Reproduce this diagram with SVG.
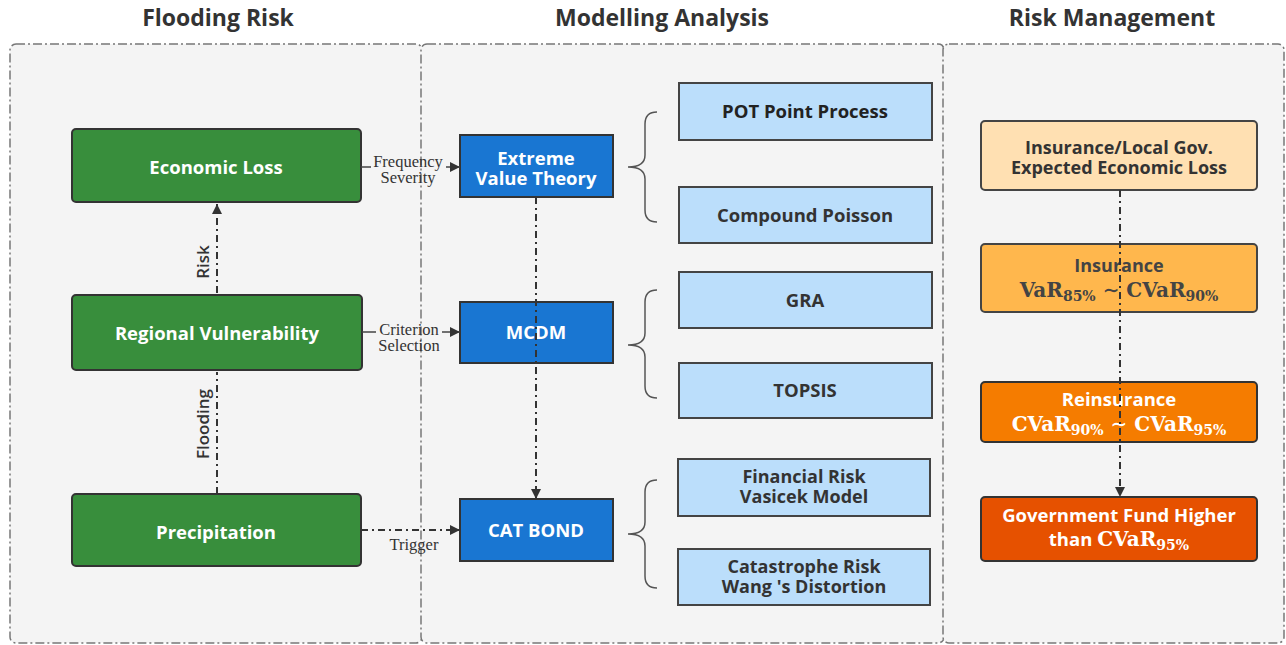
<svg xmlns="http://www.w3.org/2000/svg" width="1286" height="645" viewBox="0 0 1286 645">
<defs>
<marker id="arr" viewBox="0 0 10 10" refX="10" refY="5" markerWidth="10" markerHeight="10" markerUnits="userSpaceOnUse" orient="auto">
<path d="M0,0 L10,5 L0,10 Z" fill="#333"/>
</marker>
<style>
.title{font-family:"Open Sans","Liberation Sans",sans-serif;font-weight:700;font-size:23px;fill:#333;text-anchor:middle}
.panel{fill:#f4f4f4;stroke:#777;stroke-width:1.5;stroke-dasharray:9,3,2,3}
.green{fill:#388e3c;stroke:#333;stroke-width:2}
.blue{fill:#1976d2;stroke:#333;stroke-width:2}
.lblue{fill:#bbdefb;stroke:#444;stroke-width:2}
.wt{font-family:"Open Sans","Liberation Sans",sans-serif;font-weight:700;font-size:18.5px;fill:#fff;text-anchor:middle}
.dt{font-family:"Open Sans","Liberation Sans",sans-serif;font-weight:700;font-size:18.5px;fill:#333;text-anchor:middle}
.dt2{font-family:"Open Sans","Liberation Sans",sans-serif;font-weight:700;font-size:18px;fill:#333;text-anchor:middle}
.math{font-family:"DejaVu Serif","Liberation Serif",serif;font-weight:700;font-size:20px;text-anchor:middle}
.sub{font-size:14px}
.sl{font-family:"Liberation Serif","Times New Roman",serif;font-size:16.5px;fill:#333;text-anchor:middle}
.rl{font-family:"Open Sans","Liberation Sans",sans-serif;font-weight:600;font-size:17px;fill:#333;text-anchor:middle}
.conn{fill:none;stroke:#333;stroke-width:2;stroke-dasharray:7,4,2,4}
.solid{fill:none;stroke:#444;stroke-width:1.5}
.brace{fill:none;stroke:#555;stroke-width:1.5}
</style>
</defs>
<rect x="0" y="0" width="1286" height="645" fill="#fff"/>
<g id="panels">
<rect class="panel" x="10" y="44" width="412" height="599" rx="6"/>
<rect class="panel" x="421" y="44" width="523" height="599" rx="6"/>
<rect class="panel" x="943" y="44" width="341" height="599" rx="6"/>
<text class="title" x="218" y="26">Flooding Risk</text>
<text class="title" x="662" y="26">Modelling Analysis</text>
<text class="title" x="1112" y="26">Risk Management</text>
</g>
<g id="economic-loss">
<rect class="green" x="72" y="129" width="289" height="73" rx="4"/>
<text class="wt" x="216" y="174">Economic Loss</text>
</g>
<g id="regional-vulnerability">
<rect class="green" x="72" y="295" width="290" height="75" rx="4"/>
<text class="wt" x="217" y="340">Regional Vulnerability</text>
</g>
<g id="precipitation">
<rect class="green" x="72" y="494" width="289" height="72" rx="4"/>
<text class="wt" x="216" y="539">Precipitation</text>
</g>
<g id="evt">
<rect class="blue" x="460" y="135" width="153" height="62"/>
<text class="wt" x="536" y="165">Extreme</text>
<text class="wt" x="536" y="185">Value Theory</text>
</g>
<g id="mcdm">
<rect class="blue" x="460" y="302" width="153" height="61"/>
<text class="wt" x="536" y="339">MCDM</text>
</g>
<g id="catbond">
<rect class="blue" x="460" y="499" width="153" height="62"/>
<text class="wt" x="536" y="537">CAT BOND</text>
</g>
<g id="pot">
<rect class="lblue" x="679" y="83" width="253" height="57"/>
<text class="dt" x="805" y="118" style="fill:#222">POT Point Process</text>
</g>
<g id="compound-poisson">
<rect class="lblue" x="679" y="187" width="253" height="56"/>
<text class="dt" x="805" y="222">Compound Poisson</text>
</g>
<g id="gra">
<rect class="lblue" x="679" y="272" width="253" height="56"/>
<text class="dt" x="805" y="307">GRA</text>
</g>
<g id="topsis">
<rect class="lblue" x="679" y="363" width="253" height="55"/>
<text class="dt" x="805" y="397">TOPSIS</text>
</g>
<g id="financial-risk">
<rect class="lblue" x="678" y="459" width="252" height="57"/>
<text class="dt2" x="804" y="483">Financial Risk</text>
<text class="dt2" x="804" y="503">Vasicek Model</text>
</g>
<g id="catastrophe-risk">
<rect class="lblue" x="678" y="549" width="252" height="56"/>
<text class="dt2" x="804" y="573">Catastrophe Risk</text>
<text class="dt2" x="804" y="593">Wang 's Distortion</text>
</g>
<g id="braces">
<path class="brace" d="M657,112 Q645,112 645,124 L645,155 Q645,167 628,167 Q645,167 645,179 L645,210 Q645,222 657,222"/>
<path class="brace" d="M657,290 Q645,290 645,302 L645,333 Q645,345 628,345 Q645,345 645,357 L645,386 Q645,398 657,398"/>
<path class="brace" d="M657,480 Q645,480 645,492 L645,522 Q645,534 628,534 Q645,534 645,546 L645,576 Q645,588 657,588"/>
</g>
<g id="insurance-local-gov">
<rect x="981" y="121" width="276" height="69" rx="4" fill="#ffe0b2" stroke="#444" stroke-width="2"/>
<text class="dt2" x="1119" y="154">Insurance/Local Gov.</text>
<text class="dt2" x="1119" y="174">Expected Economic Loss</text>
</g>
<g id="insurance">
<rect x="981" y="244" width="276" height="68" rx="4" fill="#ffb74d" stroke="#444" stroke-width="2"/>
<text class="dt2" x="1119" y="272" style="fill:#444">Insurance</text>
<text class="math" x="1119" y="297" style="fill:#444">VaR<tspan class="sub" dy="4">85%</tspan><tspan dy="-4"> ∼ CVaR</tspan><tspan class="sub" dy="4">90%</tspan></text>
</g>
<g id="reinsurance">
<rect x="981" y="382" width="276" height="60" rx="4" fill="#f57c00" stroke="#333" stroke-width="2"/>
<text class="wt" x="1119" y="406">Reinsurance</text>
<text class="math" x="1119" y="431" style="fill:#fff">CVaR<tspan class="sub" dy="4">90%</tspan><tspan dy="-4"> ∼ CVaR</tspan><tspan class="sub" dy="4">95%</tspan></text>
</g>
<g id="government-fund">
<rect x="981" y="497" width="276" height="64" rx="4" fill="#e65100" stroke="#333" stroke-width="2"/>
<text class="wt" x="1119" y="522">Government Fund Higher</text>
<text class="wt" x="1119" y="546">than <tspan style="font-family:'DejaVu Serif','Liberation Serif',serif;font-size:20px">CVaR</tspan><tspan style="font-family:'DejaVu Serif','Liberation Serif',serif;font-size:14px" dy="4">95%</tspan></text>
</g>
<g id="connectors">
<path class="conn" d="M217,293 L217,204" marker-end="url(#arr)"/>
<text class="rl" transform="translate(209,262) rotate(-90)">Risk</text>
<path class="conn" d="M217,494 L217,372"/>
<text class="rl" transform="translate(209,424) rotate(-90)">Flooding</text>
<path class="solid" d="M361,167 L371,167"/>
<path class="solid" d="M446,167 L460,167" marker-end="url(#arr)"/>
<text class="sl" x="408" y="167">Frequency</text>
<text class="sl" x="408" y="183">Severity</text>
<path class="solid" d="M362,332 L376,332"/>
<path class="solid" d="M442,332 L460,332" marker-end="url(#arr)"/>
<text class="sl" x="409" y="335">Criterion</text>
<text class="sl" x="409" y="351">Selection</text>
<path class="conn" d="M361,530 L460,530" stroke-width="1.5" marker-end="url(#arr)"/>
<text class="sl" x="414" y="550">Trigger</text>
<path class="conn" d="M536,197 L536,499" stroke-width="1.5" marker-end="url(#arr)"/>
<path class="conn" d="M1120,190 L1120,497" stroke-width="1.5" marker-end="url(#arr)"/>
</g>
</svg>
